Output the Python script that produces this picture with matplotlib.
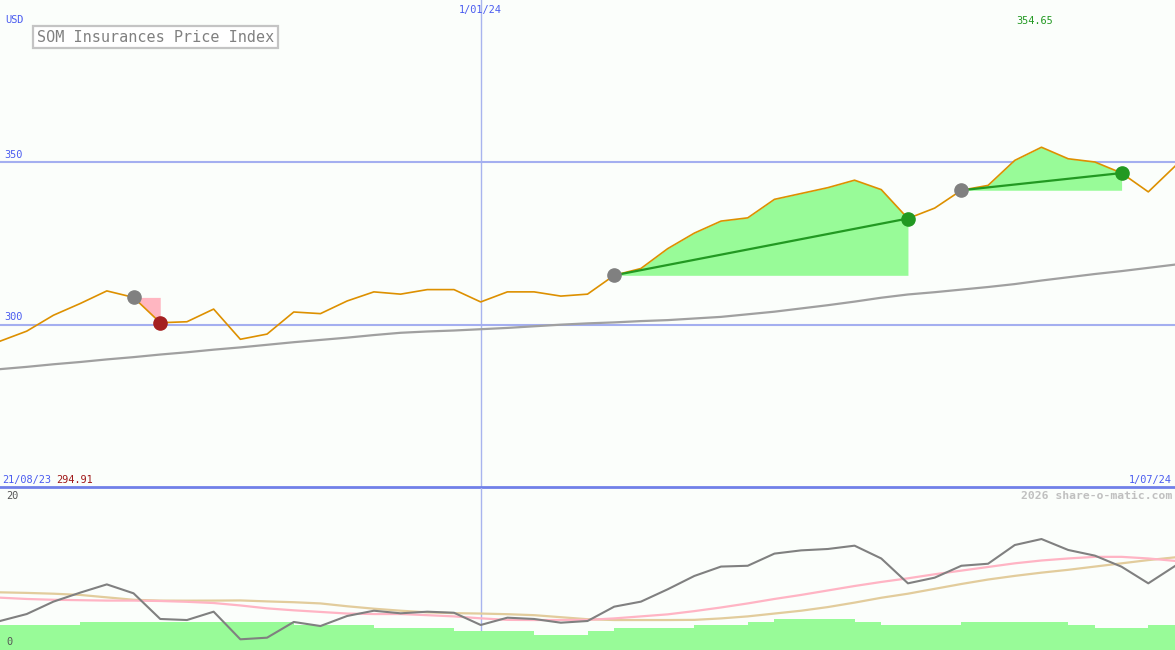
import numpy as np
import matplotlib
matplotlib.use("Agg")
import matplotlib.pyplot as plt
import matplotlib.transforms as mtransforms

# weekly closes, 28/08/23 .. 1/07/24
price = [294.91, 298.0, 302.9, 306.5, 310.4, 308.4, 300.6, 300.9, 304.8, 295.5,
         297.1, 303.9, 303.4, 307.3, 310.1, 309.4, 310.8, 310.8, 307.0, 310.1,
         310.1, 308.8, 309.4, 315.2, 317.3, 323.4, 328.2, 331.9, 332.9, 338.6,
         340.4, 342.2, 344.5, 341.6, 332.7, 335.9, 341.4, 342.9, 350.6, 354.65,
         351.1, 350.1, 346.7, 340.9, 348.8]
long_ma = [286.3, 287.0, 287.8, 288.5, 289.3, 290.0, 290.8, 291.5, 292.3, 293.0,
           293.8, 294.6, 295.3, 296.0, 296.8, 297.5, 297.9, 298.2, 298.6, 299.0,
           299.5, 300.0, 300.4, 300.7, 301.1, 301.4, 301.9, 302.4, 303.2, 304.0,
           305.0, 306.0, 307.1, 308.3, 309.3, 310.0, 310.8, 311.6, 312.5, 313.6,
           314.6, 315.6, 316.5, 317.5, 318.5]
# lower panel
volume = [3.1, 3.1, 3.1, 3.45, 3.45, 3.45, 3.45, 3.45, 3.45, 3.45,
          3.45, 3.1, 3.1, 3.1, 2.75, 2.75, 2.75, 2.35, 2.35, 2.35,
          1.85, 1.85, 2.35, 2.75, 2.75, 2.75, 3.1, 3.1, 3.45, 3.8,
          3.8, 3.8, 3.45, 3.1, 3.1, 3.1, 3.45, 3.45, 3.45, 3.45,
          3.1, 2.75, 2.75, 3.1]
osc = [3.58, 4.44, 5.97, 7.08, 8.1, 7.0, 3.83, 3.7, 4.73, 1.32,
       1.52, 3.46, 2.96, 4.2, 4.85, 4.53, 4.73, 4.6, 3.09, 3.99,
       3.83, 3.37, 3.58, 5.35, 5.97, 7.49, 9.14, 10.3, 10.4, 11.9,
       12.3, 12.47, 12.88, 11.3, 8.23, 8.93, 10.4, 10.65, 12.96, 13.7,
       12.35, 11.65, 10.28, 8.23, 10.37]
osc_fast = [6.46, 6.3, 6.2, 6.15, 6.1, 6.1, 6.05, 5.95, 5.8, 5.5,
            5.14, 4.9, 4.7, 4.5, 4.44, 4.44, 4.3, 4.15, 3.91, 3.72,
            3.7, 3.7, 3.72, 3.9, 4.15, 4.4, 4.8, 5.25, 5.75, 6.3,
            6.8, 7.35, 7.9, 8.4, 8.85, 9.35, 9.8, 10.25, 10.7, 11.05,
            11.3, 11.5, 11.5, 11.3, 11.0]
osc_slow = [7.12, 7.05, 6.95, 6.8, 6.5, 6.2, 6.1, 6.09, 6.1, 6.12,
            6.0, 5.9, 5.75, 5.4, 5.1, 4.85, 4.65, 4.55, 4.5, 4.42,
            4.3, 4.05, 3.8, 3.7, 3.7, 3.7, 3.72, 3.9, 4.15, 4.5,
            4.85, 5.3, 5.85, 6.45, 6.95, 7.55, 8.15, 8.7, 9.15, 9.55,
            9.9, 10.3, 10.7, 11.1, 11.44]

# (start, end) week index of signals
buys = [(23, 34), (36, 42)]
sells = [(5, 6)]
year_week = 18
price_levels = [300, 350]

BG = '#fbfefb'
BLUE = '#4a5cf0'
MONO = 'DejaVu Sans Mono'

weeks = np.arange(len(price))
price = np.array(price)

fig = plt.figure(figsize=(11.75, 6.5), dpi=100, facecolor=BG)
ax = fig.add_axes([0, 163 / 650, 1, 487 / 650], facecolor=BG)
ax2 = fig.add_axes([0, 0, 1, 162 / 650], facecolor=BG)

for a in (ax, ax2):
    a.set_xlim(0, len(price) - 1)
    a.axis('off')
    a.axvline(year_week, color='#a8b4ee', lw=1, zorder=1)
ax.set_ylim(250, 400)
ax2.set_ylim(0, 20)

for lvl in price_levels:
    ax.axhline(lvl, color='#a4aff0', lw=1.5, zorder=1)
ax.axhline(250, color='#7080e8', lw=2, zorder=5, clip_on=False)

ax.plot(weeks, long_ma, color='#a0a0a0', lw=1.6, zorder=2)

for s, e in buys:
    xs = weeks[s:e + 1]
    ax.fill_between(xs, price[s:e + 1], price[s], color='#98fb98', lw=0, zorder=2)
for s, e in sells:
    xs = weeks[s:e + 1]
    ax.fill_between(xs, price[s:e + 1], price[s], color='#ffb6c1', lw=0, zorder=2)

ax.plot(weeks, price, color='#dd9000', lw=1.2, zorder=3)

for s, e in buys:
    ax.plot([s, e], [price[s], price[e]], color='#229922', lw=1.6, zorder=4)
    ax.plot(s, price[s], 'o', color='#808080', ms=9.5, zorder=5)
    ax.plot(e, price[e], 'o', color='#229922', ms=9.5, zorder=5)
for s, e in sells:
    ax.plot(s, price[s], 'o', color='#808080', ms=9.5, zorder=5)
    ax.plot(e, price[e], 'o', color='#a52020', ms=9.5, zorder=5)

# lower panel
ax2.bar(weeks[:-1], volume, width=1, align='edge', color='#98fb98', lw=0, zorder=1)
ax2.plot(weeks, osc_slow, color='#e2cc9c', lw=1.6, zorder=2)
ax2.plot(weeks, osc_fast, color='#ffb4c4', lw=1.6, zorder=2)
ax2.plot(weeks, osc, color='#808080', lw=1.5, zorder=3)

# labels
yax = mtransforms.blended_transform_factory(ax.transAxes, ax.transData)
for lvl in price_levels:
    ax.text(0.004, lvl + 0.8, str(lvl), transform=yax, color=BLUE,
            fontsize=7.4, family=MONO, va='bottom', ha='left')

fig.text(5 / 1175, 1 - 20 / 650, 'USD', color=BLUE, fontsize=7.4, family=MONO,
         va='center', ha='left')
ax.text(year_week, 398.4, '1/01/24', color=BLUE, fontsize=7.4, family=MONO,
        va='top', ha='center')
imax = int(np.argmax(price))
ax.text(imax - 0.25, 393.5, f'{price.max():.2f}', color='#229922', fontsize=7.4,
        family=MONO, va='center', ha='center')
imin = int(np.argmin(price))
fig.text(2 / 1175, 1 - 480 / 650, '21/08/23', color=BLUE, fontsize=7.4,
         family=MONO, va='center', ha='left')
fig.text(56 / 1175, 1 - 480 / 650, f'{price[imin]:.2f}', color='#a01818',
         fontsize=7.4, family=MONO, va='center', ha='left')
fig.text(1172 / 1175, 1 - 480 / 650, '1/07/24', color=BLUE, fontsize=7.4,
         family=MONO, va='center', ha='right')
fig.text(1172 / 1175, 1 - 496 / 650, '2026 share-o-matic.com', color='#c0c0c0',
         fontsize=8.2, family=MONO, weight='bold', va='center', ha='right')
fig.text(6 / 1175, 1 - 496 / 650, '20', color='#555555', fontsize=7.4,
         family=MONO, va='center', ha='left')
fig.text(6 / 1175, 1 - 642 / 650, '0', color='#555555', fontsize=7.4,
         family=MONO, va='center', ha='left')

fig.text(37 / 1175, 1 - 37 / 650, 'SOM Insurances Price Index', color='#808080',
         fontsize=10.9, family=MONO, va='center', ha='left',
         bbox=dict(boxstyle='square,pad=0.25', facecolor='white',
                   edgecolor='#c4c4c4', linewidth=1.6))

fig.savefig('out.png', dpi=100, facecolor=BG)
